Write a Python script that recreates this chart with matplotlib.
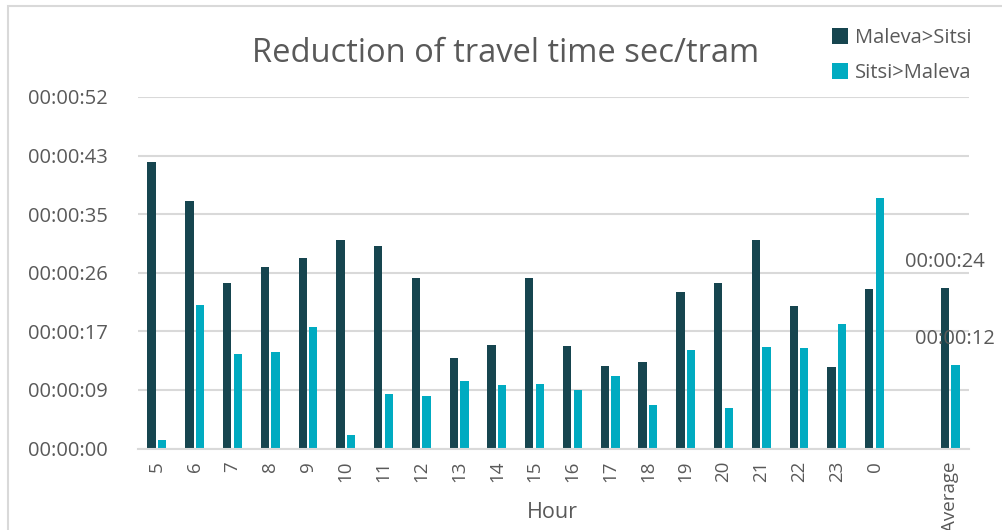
import numpy as np
import matplotlib
matplotlib.use("Agg")
import matplotlib.pyplot as plt
from matplotlib.patches import Rectangle
from matplotlib.ticker import FixedLocator, FuncFormatter

plt.rcParams['font.family'] = ['Open Sans', 'DejaVu Sans']

# Hour of day (empty slot separates the daily average)
hours = ["5", "6", "7", "8", "9", "10", "11", "12", "13", "14", "15", "16",
         "17", "18", "19", "20", "21", "22", "23", "0", "", "Average"]
# Reduction of travel time per tram, seconds
maleva_sitsi = [42.3, 36.5, 24.4, 26.7, 28.1, 30.8, 29.9, 25.1, 13.3, 15.2, 25.2,
                15.1, 12.2, 12.7, 23.1, 24.4, 30.7, 21.0, 12.0, 23.5, np.nan, 23.6]
sitsi_maleva = [1.2, 21.1, 13.9, 14.2, 17.9, 2.0, 8.0, 7.7, 9.9, 9.4, 9.5,
                8.7, 10.7, 6.4, 14.5, 5.9, 14.9, 14.8, 18.3, 37.0, np.nan, 12.3]
series_names = ["Maleva>Sitsi", "Sitsi>Maleva"]

DARK = "#16454F"
LIGHT = "#00ABC1"
TEXT = "#595959"
GRID = "#D9D9D9"


def hms(sec, _pos=None):
    s = int(round(sec))
    return f"{s // 3600:02d}:{(s % 3600) // 60:02d}:{s % 60:02d}"


fig = plt.figure(figsize=(10.03, 5.30), dpi=100)
ax = fig.add_axes([138 / 1003, 1 - 448.5 / 530, 831 / 1003, (448.5 - 97) / 530])

x = np.arange(len(hours))
w = 0.22
off = 0.14
b1 = ax.bar(x - off, maleva_sitsi, w, color=DARK, label=series_names[0], zorder=3)
b2 = ax.bar(x + off, sitsi_maleva, w, color=LIGHT, label=series_names[1], zorder=3)

ax.set_xlim(-0.5, len(hours) - 0.5)
step = 8.64
ax.set_ylim(0, 6 * step)
ax.yaxis.set_major_locator(FixedLocator([i * step for i in range(7)]))
ax.yaxis.set_major_formatter(FuncFormatter(hms))
ax.grid(axis='y', color=GRID, linewidth=1.5, zorder=0)
ax.set_axisbelow(True)

ax.set_xticks(x)
ax.set_xticklabels(hours, rotation=90, va='top', ha='center')
ax.tick_params(axis='x', length=0, pad=9, labelsize=13.5, labelcolor=TEXT)
ax.tick_params(axis='y', length=0, pad=22, labelsize=14.5, labelcolor=TEXT)

for side in ("top", "right", "left"):
    ax.spines[side].set_visible(False)
ax.spines["bottom"].set_color(GRID)
ax.spines["bottom"].set_linewidth(1.5)
ax.spines["bottom"].set_zorder(4)

# value labels for the average bars
avg = len(hours) - 1
for xpos, val in ((avg - off, maleva_sitsi[avg]), (avg + off, sitsi_maleva[avg])):
    ax.annotate(hms(val), (xpos, val), xytext=(0, 26), textcoords='offset pixels',
                ha='center', va='center', fontsize=14.5, color=TEXT, zorder=5)

fig.text(552 / 1003, 1 - 512 / 530, "Hour", ha='center', va='center',
         fontsize=15.5, color=TEXT)

fig.text(506 / 1003, 1 - 54 / 530, "Reduction of travel time sec/tram",
         ha='center', va='center', fontsize=23.5, color=TEXT)

leg = fig.legend(handles=[b1, b2], loc='upper left',
                 bbox_to_anchor=(824 / 1003, 1 - 20 / 530),
                 frameon=False, fontsize=14.5, handlelength=0.8, handleheight=0.8,
                 handletextpad=0.35, labelspacing=0.75, borderaxespad=0)
for t in leg.get_texts():
    t.set_color(TEXT)

# outer chart frame
fig.patches.append(Rectangle((8 / 1003, -0.05), 1.1, 1 - 6 / 530 + 0.05,
                             transform=fig.transFigure, fill=False,
                             edgecolor=GRID, linewidth=1.5))

fig.savefig("out.png", dpi=100)
